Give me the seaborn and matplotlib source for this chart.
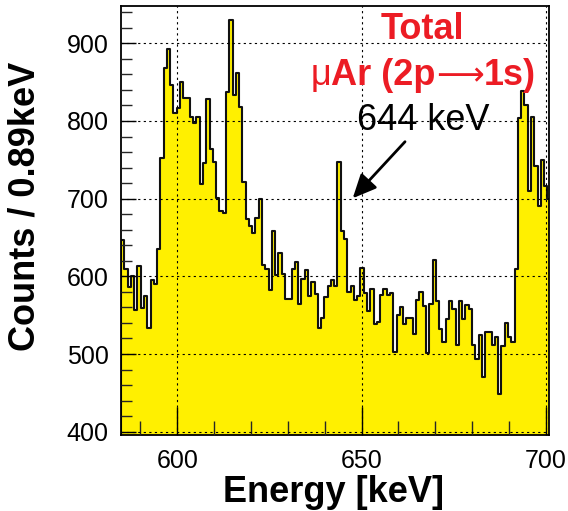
import numpy as np
import pandas as pd
import matplotlib
matplotlib.use("Agg")
import matplotlib.pyplot as plt
from matplotlib.ticker import MultipleLocator
import seaborn as sns

# ---------------- data ----------------
BIN_START = 584.73      # keV, lower edge of first bin
BIN_WIDTH = 0.89        # keV per bin
counts = [
    647, 610, 586, 600, 557, 613, 559, 575, 533, 595,
    590, 635, 752, 868, 893, 846, 810, 817, 850, 830,
    830, 805, 798, 805, 719, 746, 828, 764, 747, 701,
    684, 681, 837, 930, 834, 862, 818, 721, 674, 665,
    656, 675, 699, 615, 610, 583, 658, 602, 630, 603,
    571, 571, 610, 619, 565, 596, 608, 575, 593, 577,
    533, 547, 573, 587, 595, 587, 747, 659, 648, 580,
    588, 570, 575, 611, 578, 555, 584, 539, 541, 576,
    584, 576, 578, 502, 550, 560, 538, 546, 546, 526,
    570, 580, 562, 501, 565, 621, 568, 532, 516, 545,
    568, 558, 512, 568, 545, 563, 558, 512, 494, 524,
    471, 528, 528, 511, 522, 448, 510, 540, 522, 516,
    609, 804, 838, 820, 710, 805, 742, 690, 750, 716,
    700,
]
x_major_ticks = [600, 650, 700]
y_major_ticks = [400, 500, 600, 700, 800, 900]
title_line1 = "Total"
title_parts = ["\u03bc", "Ar (2p", "\u27f6", "1s)"]
peak_label = "644 keV"
x_label = "Energy [keV]"
y_label = "Counts / 0.89keV"

n = len(counts)
edges = [float(v) for v in BIN_START + BIN_WIDTH * np.arange(n + 1)]
centers = BIN_START + BIN_WIDTH * (np.arange(n) + 0.5)
df = pd.DataFrame({"energy": centers, "counts": counts})

# ---------------- style ----------------
sns.set_theme(style="white")
plt.rcParams["font.family"] = ["Liberation Sans", "DejaVu Sans"]
plt.rcParams["axes.linewidth"] = 1.3

W, H = 568, 511
fig = plt.figure(figsize=(W / 100, H / 100), dpi=100)
ax = fig.add_axes([121 / W, 1 - 435 / H, (549.3 - 121) / W, (435 - 6) / H])

sns.histplot(
    data=df, x="energy", weights="counts", bins=edges,
    element="step", fill=True, stat="count",
    facecolor="#FFF000", edgecolor="#111111", linewidth=1.5, alpha=1.0,
    ax=ax,
)

ax.set_xlim(584.73, 700.95)
ax.set_ylim(395.75, 948.0)

ax.xaxis.set_major_locator(MultipleLocator(50))
ax.xaxis.set_minor_locator(MultipleLocator(10))
ax.yaxis.set_major_locator(MultipleLocator(100))
ax.yaxis.set_minor_locator(MultipleLocator(20))
ax.set_xticks(x_major_ticks)
ax.set_yticks(y_major_ticks)

ax.tick_params(axis="x", which="major", direction="in", length=20, width=1.0,
               labelsize=18, pad=10, colors="black", bottom=True, top=False)
ax.tick_params(axis="x", which="minor", direction="in", length=10, width=1.0,
               bottom=True, top=False)
ax.tick_params(axis="y", which="major", direction="in", length=11, width=1.0,
               labelsize=18, pad=9, colors="black", left=True, right=False)
ax.tick_params(axis="y", which="minor", direction="in", length=8, width=1.0,
               left=True, right=False)

ax.set_axisbelow(False)
ax.grid(True, which="major", color="black", linestyle=(0, (2.0, 3.0)), linewidth=0.8)

for s in ax.spines.values():
    s.set_color("black")
    s.set_linewidth(1.3)

ax.set_xlabel("")
ax.set_ylabel("")

# axis titles
fig.text(333 / W, 1 - 502 / H, x_label, ha="center", va="baseline",
         fontsize=26, fontweight="bold", color="black")
fig.text(25 / W, 1 - 206.7 / H, y_label, ha="center", va="center",
         rotation=90, fontsize=26, fontweight="bold", color="black")

# annotations
red = "#EC1C24"
ax.text(666.6, 905.1, title_line1, ha="center", va="baseline",
        fontsize=26, fontweight="bold", color=red)

# second title line assembled from pieces (thin mu, long arrow)
fig.canvas.draw()
renderer = fig.canvas.get_renderer()
styles = [
    (["Liberation Sans", "DejaVu Sans"], "normal", 26),
    (["Liberation Sans", "DejaVu Sans"], "bold", 26),
    (["DejaVu Sans"], "normal", 24),
    (["Liberation Sans", "DejaVu Sans"], "bold", 26),
]
pieces = []
for txt, (fam, wt, fs) in zip(title_parts, styles):
    t = ax.text(0, 846.3, txt, ha="left", va="baseline", fontsize=fs,
                fontweight=wt, family=fam, color=red)
    pieces.append(t)
widths = [p.get_window_extent(renderer).width for p in pieces]
total_w = sum(widths)
cx_disp = ax.transData.transform((666.7, 846.3))[0]
x_disp = cx_disp - total_w / 2
for p, w in zip(pieces, widths):
    xd = ax.transData.inverted().transform((x_disp, 0))[0]
    p.set_x(xd)
    x_disp += w

ax.text(666.7, 788.4, peak_label, ha="center", va="baseline",
        fontsize=26, color="black")
ax.annotate("", xy=(647.6, 700.5), xytext=(661.8, 773.3),
            arrowprops=dict(arrowstyle="-|>,head_length=1.2,head_width=0.55",
                            color="black", lw=2.0, shrinkA=0, shrinkB=0))

fig.savefig("out.png", dpi=100)
